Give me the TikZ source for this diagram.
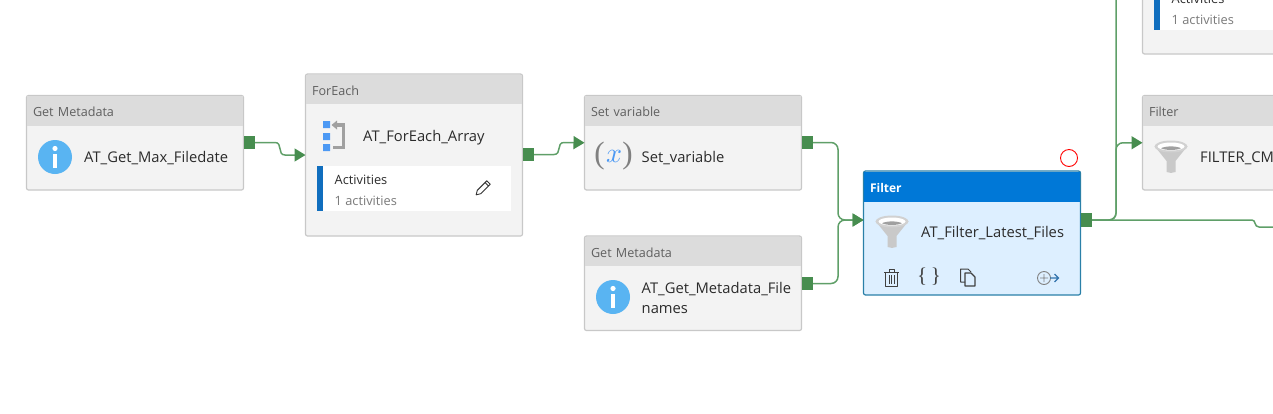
\documentclass[tikz,border=0pt]{standalone}
\usepackage{fontspec}
\setmainfont{Open Sans}
\newfontfamily\iconfont{Liberation Serif}
\usetikzlibrary{arrows.meta,calc}
\definecolor{boxline}{HTML}{C8C8C8}
\definecolor{boxfill}{HTML}{F3F3F3}
\definecolor{hdrfill}{HTML}{DCDCDC}
\definecolor{hdrtext}{HTML}{5F5F5F}
\definecolor{nametext}{HTML}{2B2B2B}
\definecolor{linkgreen}{HTML}{5F9F68}
\definecolor{portgreen}{HTML}{478D4F}
\definecolor{infoblue}{HTML}{59B4F2}
\definecolor{barblue}{HTML}{106EBE}
\definecolor{selfill}{HTML}{DDEFFF}
\definecolor{selline}{HTML}{2A80A8}
\definecolor{selhdr}{HTML}{0078D7}
\definecolor{icongray}{HTML}{A0A0A0}
\definecolor{funnelgray}{HTML}{C9C9C9}
\tikzset{
  x=1pt,y=-1pt,
  actbox/.style={draw=boxline,line width=1.2pt,fill=boxfill,rounded corners=2pt,anchor=north west,outer sep=0pt,inner sep=0pt,minimum width=217pt},
  selbox/.style={actbox,draw=selline,fill=selfill},
  hdrbox/.style={fill=hdrfill,anchor=north west,outer sep=0pt,inner ysep=0pt,inner xsep=6pt,minimum height=29.5pt,text width=204pt,align=left,text height=12pt,text depth=0pt,text=hdrtext,font=\fontsize{12.6}{15}\selectfont},
  selhdrbox/.style={hdrbox,fill=selhdr,text=white,font=\fontsize{12}{15}\selectfont\bfseries},
  nametxt/.style={anchor=west,inner sep=0pt,text=nametext,align=left,font=\fontsize{14.75}{20}\selectfont},
  subtxt/.style={anchor=west,inner sep=0pt,text=nametext,font=\fontsize{12.8}{15}\selectfont},
  graytxt/.style={subtxt,text=black!52},
  port/.style={fill=portgreen,minimum width=11pt,minimum height=13.5pt,inner sep=0pt,outer sep=0pt},
  link/.style={draw=linkgreen,line width=1.5pt,rounded corners=7pt},
  tipgreen/.style={-{Triangle[length=11pt,width=13pt,color=portgreen]}},
  linkarrow/.style={link,tipgreen},
  panel/.style={fill=white,anchor=north west,inner sep=0pt,outer sep=0pt},
  bluebar/.style={fill=barblue,anchor=north west,inner sep=0pt,outer sep=0pt,minimum width=6pt},
}
\newcommand{\infoicon}[2]{%
  \fill[infoblue] (#1,#2) circle[radius=17];
  \fill[white] (#1,#2-8.5) circle[radius=2.6];
  \fill[white] (#1-2.3,#2-3.5) rectangle (#1+2.3,#2+10.5);
}
\newcommand{\funnelicon}[2]{%
  \begin{scope}[shift={(#1,#2)}]
    \fill[funnelgray] (-16.5,5) -- (-4.5,20) -- (-4.5,31) to[bend right=20] (4.5,31) -- (4.5,20) -- (16.5,5) -- cycle;
    \fill[funnelgray!85!white] (0,5.5) ellipse[x radius=16.5,y radius=6];
    \fill[white] (0,5.5) ellipse[x radius=13.5,y radius=4];
    \fill[icongray] (-10,7.2) .. controls (-5,4.8) and (5,4.8) .. (10,7.2) .. controls (5,9.6) and (-5,9.6) .. (-10,7.2) -- cycle;
  \end{scope}
}
\begin{document}
\begin{tikzpicture}
\useasboundingbox (0,0) rectangle (1273,413);
\clip (0,0) rectangle (1273,413);

% activity boxes
\node[actbox,minimum height=94.5pt] (gm1) at (26.5,95.5) {};
\node[hdrbox,minimum width=216pt] (gm1h) at (27,96) {Get Metadata};
\node[actbox,minimum height=162pt] (fe) at (305.5,74) {};
\node[hdrbox,minimum width=216pt] (feh) at (306,74.5) {ForEach};
\node[actbox,minimum height=94.5pt] (sv) at (584.5,95.5) {};
\node[hdrbox,minimum width=216pt] (svh) at (585,96) {Set variable};
\node[actbox,minimum height=94.5pt] (gm2) at (584.5,236) {};
\node[hdrbox,minimum width=216pt] (gm2h) at (585,236.5) {Get Metadata};
\node[selbox,minimum height=124pt] (flt) at (863.5,171) {};
\node[selhdrbox,minimum width=216pt] (flth) at (864,172) {Filter};
\node[actbox,minimum height=94.5pt] (flc) at (1142.5,95.5) {};
\node[hdrbox,minimum width=216pt] (flch) at (1143,96) {Filter};
\node[actbox,minimum height=150pt] (top) at (1142.5,-96) {};

% names
\node[nametxt] (gm1n) at (84,158) {AT\_Get\_Max\_Filedate};
\node[nametxt] (fen) at (363,137.5) {AT\_ForEach\_Array};
\node[nametxt] (svn) at (641.5,158) {Set\_variable};
\node[nametxt] (gm2n) at (641.5,298) {AT\_Get\_Metadata\_File\\names};
\node[nametxt] (fltn) at (921,233.5) {AT\_Filter\_Latest\_Files};
\node[nametxt] (flcn) at (1200,158) {FILTER\_CM};

% inner panels
\node[panel,minimum width=194pt,minimum height=45pt] (fep) at (317,166) {};
\node[bluebar,minimum height=45pt] (febar) at (317,166) {};
\node[subtxt] (fea) at (334.5,179.5) {Activities};
\node[graytxt] (fec) at (334.5,200.5) {1 activities};
\node[panel,minimum width=140pt,minimum height=45pt] (topp) at (1154,-15) {};
\node[bluebar,minimum height=45pt] (topbar) at (1154,-15) {};
\node[subtxt] (topa) at (1171.5,-1.5) {Activities};
\node[graytxt] (topc) at (1171.5,19.5) {1 activities};

% icons
\infoicon{55}{157}
\infoicon{613}{297}
\funnelicon{892}{216}
\funnelicon{1171}{141}
\node[inner sep=0pt,text=black!50,font=\iconfont\fontsize{31}{31}\selectfont] (xl) at (599.5,156) {(};
\node[inner sep=0pt,text=infoblue!85!blue,scale=2.8] (xm) at (614,156.5) {$x$};
\node[inner sep=0pt,text=black!50,font=\iconfont\fontsize{31}{31}\selectfont] (xr) at (627.5,156) {)};

% foreach icon
\fill[infoblue!85!blue] (323,121) rectangle (330,128) (323,133) rectangle (330,140) (323,144) rectangle (330,151);
\draw[icongray,line width=3.2pt] (336,125) -- (343.5,125) -- (343.5,147.5) -- (332.5,147.5);
\fill[icongray] (331.5,125) -- (337,120.5) -- (337,129.5) -- cycle;

% pencil
\begin{scope}[shift={(482.5,188.5)},rotate=45]
  \draw[black!80,line width=.9pt,line join=round] (-9,0) -- (-5,-2.4) -- (8.5,-2.4) -- (8.5,2.4) -- (-5,2.4) -- cycle (6,-2.4) -- (6,2.4);
\end{scope}

% selected-node toolbar
\draw[black!75,line width=1pt,line join=round] (884,272) -- (899,272) (889,272) -- (889,269.5) -- (894,269.5) -- (894,272) (885.5,272) -- (885.5,286) -- (897.5,286) -- (897.5,272);
\draw[black!75,line width=1pt] (889,275) -- (889,283.5) (891.5,275) -- (891.5,283.5) (894,275) -- (894,283.5);
\node[inner sep=0pt,text=black!75,font=\iconfont\fontsize{21}{21}\selectfont] (br) at (929,276.5) {\{\,\}};
\draw[black!75,line width=1pt,line join=round] (965,282) -- (960.5,282) -- (960.5,269) -- (968,269) -- (971,272);
\draw[black!75,line width=1.1pt,line join=round] (965,273) -- (971,273) -- (975,277) -- (975,286) -- (965,286) -- cycle;
\draw[black!50,line width=.9pt] (1044,278) circle[radius=6.5] (1040,278) -- (1048,278) (1044,274) -- (1044,282);
\draw[black!30!cyan!70!blue,line width=1.2pt] (1050,278) -- (1058,278) (1054.5,274) -- (1058.5,278) -- (1054.5,282);

% red circle
\node[draw=red,line width=.9pt,circle,minimum size=17pt,inner sep=0pt] (mark) at (1069,158) {};

% ports
\node[port] (p1) at (249.5,142.5) {};
\node[port] (p2) at (528.5,154.5) {};
\node[port] (p3) at (807.5,142.5) {};
\node[port] (p4) at (807.5,283.5) {};
\node[port] (p5) at (1086.5,220) {};
\coordinate (fltin) at (863.5,220);
\coordinate (uptop) at (1116,-5);
\coordinate (rightend) at (1280,227);

% connectors
\draw[linkarrow,rounded corners=0pt]
  (p1.east) -- ++(20,0) .. controls +(8,0) and +(-8,0) .. ++(10,12.5) -- (fe.west);
\draw[linkarrow,rounded corners=0pt]
  (p2.east) -- ++(20,0) .. controls +(8,0) and +(-8,0) .. ++(10,-12) -- (sv.west);
\draw[linkarrow] (p3.east) -- ++(25,0) |- (fltin);
\draw[linkarrow] (p4.east) -- ++(25,0) |- (fltin);
\draw[link] (p5.east) -- ++(24,0) -- (uptop);
\draw[linkarrow] (p5.east) -- ++(24,0) |- (flc.west);
\draw[link,rounded corners=0pt] (p5.east) -- ++(160,0) .. controls +(4,0) and +(-5,0) .. ++(7,7) -- (rightend);
\end{tikzpicture}
\end{document}
